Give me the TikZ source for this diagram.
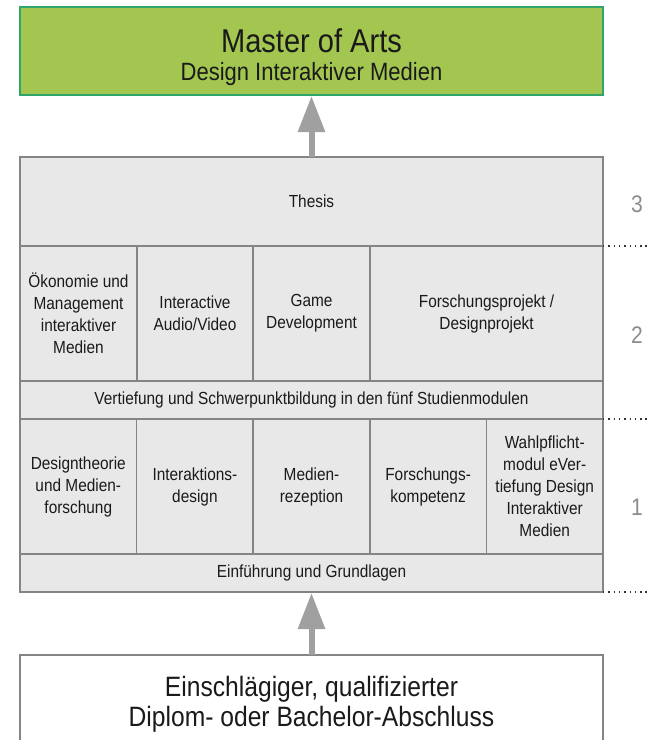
\documentclass[tikz,border=0pt]{standalone}
\usepackage{fontspec}
\setmainfont{Liberation Sans}[FakeStretch=0.88]
\usetikzlibrary{arrows.meta,positioning}
\definecolor{mastergruen}{HTML}{A3C651}
\definecolor{randgruen}{HTML}{2FA56C}
\definecolor{zellgrau}{HTML}{E8E8E8}
\definecolor{randgrau}{HTML}{858585}
\definecolor{pfeilgrau}{HTML}{A0A0A0}
\definecolor{zahlgrau}{HTML}{8C8C8C}
\definecolor{schrift}{HTML}{1A1A1A}
\newcommand{\Breite}{583pt}
\newcommand{\Spalte}{116.6pt}
\newcommand{\Hoch}{135pt}
\newcommand{\Flach}{38pt}

\begin{document}
\begin{tikzpicture}[x=1pt,y=-1pt,
  modul/.style={draw=randgrau, line width=1.5pt, fill=zellgrau, inner sep=0pt,
    outer sep=0pt, align=center, text=schrift,
    font=\fontsize{17.5}{22}\selectfont},
  abschluss/.style={draw=randgrau, line width=1.2pt, fill=white, inner sep=0pt,
    outer sep=0pt, align=center, text=schrift, minimum width=\Breite,
    font=\fontsize{28}{30}\selectfont},
  pfeil/.style={draw=pfeilgrau, line width=6pt,
    -{Triangle[width=26pt,length=36pt]}, shorten >=1pt},
  stufe/.style={draw=black!80, line width=1.4pt, dash pattern=on 1.4pt off 3.9pt},
  zahl/.style={text=zahlgrau, font=\fontsize{24}{28}\selectfont}]
  \useasboundingbox (0,0) rectangle (651,740);
  \clip (0,0) rectangle (651,740);

  % degree on top
  \node[draw=randgruen, line width=1.5pt, fill=mastergruen, inner sep=0pt,
    outer sep=0pt, align=center, text=schrift, minimum width=\Breite,
    minimum height=88pt, text height=64pt] (master) at (311.5,51)
    {{\fontsize{33}{30}\selectfont Master of Arts}\\[8pt]
     {\fontsize{25}{28}\selectfont Design Interaktiver Medien}};

  % semester 3
  \node[modul, minimum width=\Breite, minimum height=89pt] (thesis) at (311.5,201.5) {Thesis};

  % semester 2
  \node[modul, anchor=north west, minimum width=117pt, minimum height=\Hoch] (oeko)
    at (thesis.south west) {Ökonomie und\\Management\\interaktiver\\Medien};
  \node[modul, right=0pt of oeko, minimum width=116pt, minimum height=\Hoch] (audio)
    {Interactive\\Audio/Video};
  \node[modul, right=0pt of audio, minimum width=117pt, minimum height=\Hoch] (game)
    {Game\\Development};
  \node[modul, right=0pt of game, minimum width=233pt, minimum height=\Hoch] (projekt)
    {Forschungsprojekt /\\Designprojekt};
  \node[modul, anchor=north west, minimum width=\Breite, minimum height=\Flach] (vertiefung)
    at (oeko.south west) {Vertiefung und Schwerpunktbildung in den fünf Studienmodulen};

  % semester 1
  \node[modul, anchor=north west, minimum width=\Spalte, minimum height=\Hoch] (theorie)
    at (vertiefung.south west) {Designtheorie\\und Medien-\\forschung};
  \node[modul, right=0pt of theorie, minimum width=\Spalte, minimum height=\Hoch] (interaktion)
    {Interaktions-\\design};
  \node[modul, right=0pt of interaktion, minimum width=\Spalte, minimum height=\Hoch] (rezeption)
    {Medien-\\rezeption};
  \node[modul, right=0pt of rezeption, minimum width=\Spalte, minimum height=\Hoch] (kompetenz)
    {Forschungs-\\kompetenz};
  \node[modul, right=0pt of kompetenz, minimum width=\Spalte, minimum height=\Hoch] (wahl)
    {Wahlpflicht-\\modul eVer-\\tiefung Design\\Interaktiver\\Medien};
  \node[modul, anchor=north west, minimum width=\Breite, minimum height=\Flach] (einf)
    at (theorie.south west) {Einführung und Grundlagen};

  % entry requirement (runs off the bottom)
  \node[abschluss, minimum height=98pt] (bachelor) at (311.5,704)
    {Einschlägiger, qualifizierter\\Diplom- oder Bachelor-Abschluss};

  % arrows
  \draw[pfeil] (thesis.north) -- (master.south);
  \draw[pfeil] (bachelor.north) -- (einf.south);

  % semester borders and numbers
  \coordinate (rechts) at (651,0);
  \draw[stufe] (thesis.south east) -- (thesis.south east -| rechts);
  \draw[stufe] (vertiefung.south east) -- (vertiefung.south east -| rechts);
  \draw[stufe] (einf.south east) -- (einf.south east -| rechts);
  \node[zahl] (s3) at (637,204) {3};
  \node[zahl] (s2) at (637,335) {2};
  \node[zahl] (s1) at (637,507) {1};
\end{tikzpicture}
\end{document}
